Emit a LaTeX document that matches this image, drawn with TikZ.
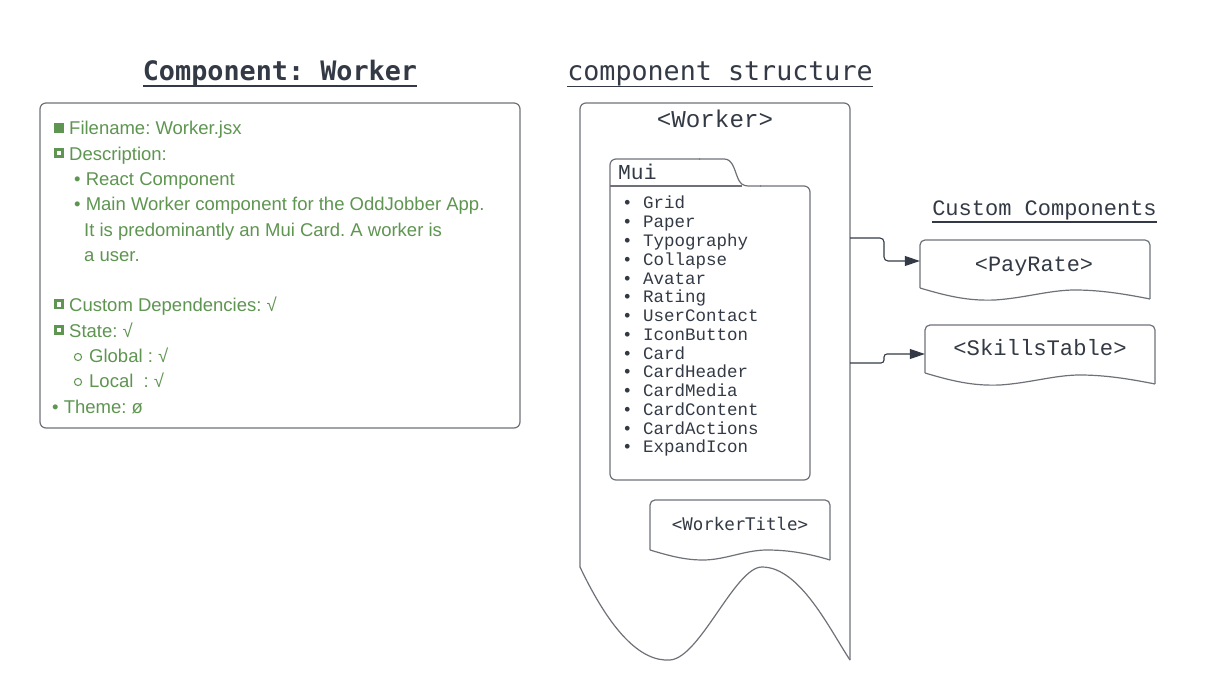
\documentclass[tikz,border=0pt]{standalone}
\usepackage{fontspec}
\setmainfont{Liberation Sans}
\newfontfamily\lmono{Liberation Mono}
\newfontfamily\dmono{DejaVu Sans Mono}
\usetikzlibrary{arrows.meta}
\definecolor{txtgreen}{HTML}{5E9550}
\definecolor{linegray}{HTML}{6E7278}
\definecolor{darktxt}{HTML}{333A45}
\tikzset{
  outline/.style={draw=linegray, line width=1.2pt},
  conn/.style={draw=darktxt, line width=1.1pt, -{Triangle[length=15pt,width=10pt]}},
  gtext/.style={anchor=base west, inner sep=0pt, text=txtgreen, font=\fontsize{18.5}{20}\selectfont},
  mtext/.style={anchor=base, inner sep=0pt, text=darktxt},
  listtext/.style={anchor=base west, inner sep=0pt, text=darktxt, font=\lmono\fontsize{17.5}{19}\selectfont},
  ghost/.style={draw=none, inner sep=0pt},
  uline/.style={draw=darktxt, line width=1.6pt},
  hsq/.style={draw=txtgreen, line width=2.6pt},
}
\frenchspacing
\begin{document}
\begin{tikzpicture}[x=1pt,y=-1pt]
\useasboundingbox[fill=white] (0,0) rectangle (1205,700);

% ---------- Left: Component title and info box ----------
\node[mtext, font=\dmono\bfseries\fontsize{26.8}{30}\selectfont] (title) at (280,81) {Component: Worker};
\draw[uline, line width=2pt] (143,86.5) -- (417,86.5);

\node[ghost, minimum width=480, minimum height=325] (infobox) at (280,265.5) {};
\draw[outline, rounded corners=6pt] (40,103) rectangle (520,428);

\fill[txtgreen] (54,123.5) rectangle (64,133.5);
\draw[hsq] (55.3,149.3) rectangle (62.7,156.7);
\draw[hsq] (55.3,300.8) rectangle (62.7,308.2);
\draw[hsq] (55.3,326.3) rectangle (62.7,333.7);
\draw[txtgreen, line width=1pt] (78,357) circle[radius=3.6];
\draw[txtgreen, line width=1pt] (78,382) circle[radius=3.6];

\node[gtext] (l1) at (69,135) {Filename: Worker.jsx};
\node[gtext] (l2) at (69,160.3) {Description:};
\node[gtext] (l3) at (74,185.6) {• React Component};
\node[gtext] (l4) at (74,211) {• Main Worker component for the OddJobber App.};
\node[gtext] (l5) at (84,236.2) {It is predominantly an Mui Card. A worker is};
\node[gtext] (l6) at (84,261.5) {a user.};
\node[gtext] (l7) at (69,312) {Custom Dependencies: √};
\node[gtext] (l8) at (69,337.4) {State: √};
\node[gtext] (l9) at (89,362.7) {Global : √};
\node[gtext] (l10) at (89,388) {Local\hspace{5pt} : √};
\node[gtext] (l11) at (52,413.3) {• Theme: ø};

% ---------- Middle: component structure ----------
\node[mtext, font=\dmono\fontsize{26.7}{30}\selectfont] (structtitle) at (720,81) {component structure};
\draw[uline] (567,86.5) -- (873,86.5);

% Worker shape
\node[ghost, minimum width=270, minimum height=557] (worker) at (715,381.5) {};
\draw[outline, rounded corners=6pt] (580,567) -- (580,103) -- (850,103) -- (850,660);
\draw[outline] (580,567) .. controls (610,630) and (640,662) .. (670,660)
  .. controls (700,658) and (735,567) .. (762,567)
  .. controls (800,567) and (830,630) .. (850,660);
\node[mtext, font=\lmono\fontsize{24.2}{27}\selectfont] (workerlabel) at (715,128) {<Worker>};

% Mui folder
\node[ghost, minimum width=200, minimum height=321] (mui) at (710,319.5) {};
\draw[outline, rounded corners=6pt] (700,159) -- (610,159) -- (610,480) -- (810,480) -- (810,186) -- (760,186);
\draw[outline] (699,159) -- (724,159) .. controls (732,159) and (734,168) .. (737,176)
  .. controls (740,184) and (742,186) .. (750,186) -- (761,186);
\draw[outline] (610,186) -- (742,186);
\node[anchor=base west, inner sep=0pt, text=darktxt, font=\lmono\fontsize{21.3}{24}\selectfont] (muilabel) at (618,180) {Mui};

\node[listtext] (m1) at (622,209) {• Grid};
\node[listtext] (m2) at (622,227.8) {• Paper};
\node[listtext] (m3) at (622,246.5) {• Typography};
\node[listtext] (m4) at (622,265.3) {• Collapse};
\node[listtext] (m5) at (622,284.1) {• Avatar};
\node[listtext] (m6) at (622,302.9) {• Rating};
\node[listtext] (m7) at (622,321.6) {• UserContact};
\node[listtext] (m8) at (622,340.4) {• IconButton};
\node[listtext] (m9) at (622,359.2) {• Card};
\node[listtext] (m10) at (622,377.9) {• CardHeader};
\node[listtext] (m11) at (622,396.7) {• CardMedia};
\node[listtext] (m12) at (622,415.5) {• CardContent};
\node[listtext] (m13) at (622,434.2) {• CardActions};
\node[listtext] (m14) at (622,453) {• ExpandIcon};

% WorkerTitle
\node[ghost, minimum width=180, minimum height=60] (workertitle) at (740,530) {};
\draw[outline, rounded corners=5pt] (650,550) -- (650,500) -- (830,500) -- (830,560);
\draw[outline] (650,550) .. controls (670,556) and (685,560) .. (703,560)
  .. controls (725,560) and (745,550) .. (767,550)
  .. controls (790,550) and (810,554) .. (830,560);
\node[mtext, font=\dmono\fontsize{17.4}{20}\selectfont] (wtlabel) at (740,530) {<WorkerTitle>};

% ---------- Right: custom components ----------
\node[mtext, font=\lmono\fontsize{22}{25}\selectfont] (customtitle) at (1044.5,216) {Custom Components};
\draw[uline] (932,222) -- (1157,222);

% PayRate
\node[ghost, minimum width=230, minimum height=48] (payrate) at (1035,264) {};
\draw[outline, rounded corners=5pt] (920,288) -- (920,240) -- (1150,240) -- (1150,299);
\draw[outline] (920,288) .. controls (950,297) and (970,301) .. (995,300)
  .. controls (1025,298) and (1050,290) .. (1075,290)
  .. controls (1100,290) and (1125,294) .. (1150,299);
\node[mtext, font=\lmono\fontsize{21.9}{25}\selectfont] (prlabel) at (1034,272) {<PayRate>};

% SkillsTable
\node[ghost, minimum width=230, minimum height=48] (skills) at (1040,349) {};
\draw[outline, rounded corners=5pt] (925,373) -- (925,325) -- (1155,325) -- (1155,384);
\draw[outline] (925,373) .. controls (955,382) and (975,386) .. (1000,385)
  .. controls (1030,383) and (1055,375) .. (1080,375)
  .. controls (1105,375) and (1130,379) .. (1155,384);
\node[mtext, font=\lmono\fontsize{22.2}{25}\selectfont] (stlabel) at (1040,356) {<SkillsTable>};

% Connectors
\coordinate (wout1) at (850,238);
\coordinate (wout2) at (850,363);
\draw[conn, rounded corners=4pt] (wout1) -- (884,238) -- (884,261) -- ([yshift=3pt]payrate.west);
\draw[conn, rounded corners=3pt] (wout2) -- (884,363) -- (884,354) -- ([yshift=-5pt]skills.west);
\end{tikzpicture}
\end{document}
